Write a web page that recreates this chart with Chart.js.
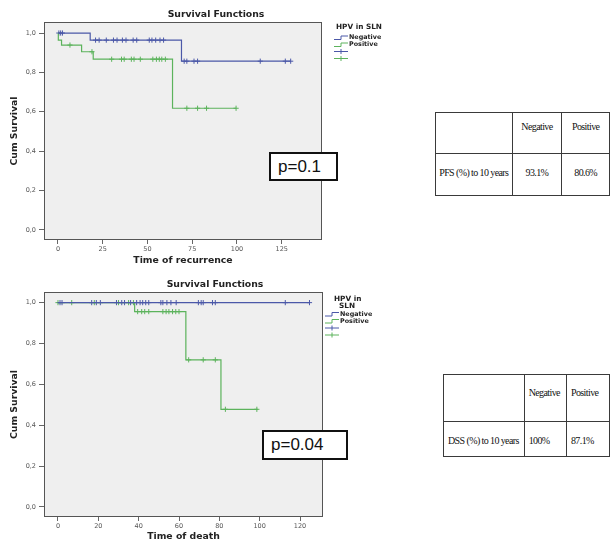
<!DOCTYPE html>
<html>
<head>
<meta charset="utf-8">
<script src="https://cdn.jsdelivr.net/npm/chart.js@4.4.1/dist/chart.umd.min.js"></script>
<style>
body{margin:0;background:#fff;width:610px;height:542px;position:relative;overflow:hidden}
canvas{position:absolute;left:0}
.pbox{position:absolute;box-sizing:border-box;border:2px solid #111;background:#fff;
  font-family:"Liberation Sans",Arial,sans-serif;font-size:17px;color:#111;padding-left:7px;display:flex;align-items:center}
table{position:absolute;border-collapse:collapse;table-layout:fixed;
  font-family:"Liberation Serif","Times New Roman",serif;font-size:10px;line-height:12px;color:#111;letter-spacing:-0.6px}
td{border:1.5px solid #3a3a3a;padding:0;white-space:nowrap;vertical-align:top}
#pfs td{text-align:center}
#pfs tr.h td{padding-top:8px}
#pfs tr.r td{padding-top:13px}
#dss td{text-align:left;padding-left:4px}
#dss tr.h td{padding-top:12px}
#dss tr.r td{padding-top:13px}
</style>
</head>
<body>
<canvas id="pfsChart" width="400" height="268" style="top:0px"></canvas>
<canvas id="dssChart" width="400" height="272" style="top:270px"></canvas>

<div class="pbox" style="left:269px;top:152px;width:69px;height:29px">p=0.1</div>
<div class="pbox" style="left:262px;top:430px;width:86px;height:30px">p=0.04</div>

<table id="pfs" style="left:435px;top:112px">
  <colgroup><col style="width:77px"><col style="width:51px"><col style="width:49px"></colgroup>
  <tr class="h" style="height:41px"><td></td><td>Negative</td><td>Positive</td></tr>
  <tr class="r" style="height:42px"><td>PFS (%) to 10 years</td><td>93.1%</td><td>80.6%</td></tr>
</table>

<table id="dss" style="left:443px;top:374px">
  <colgroup><col style="width:82px"><col style="width:44px"><col style="width:46px"></colgroup>
  <tr class="h" style="height:47px"><td></td><td>Negative</td><td>Positive</td></tr>
  <tr class="r" style="height:35px"><td>DSS (%) to 10 years</td><td>100%</td><td>87.1%</td></tr>
</table>

<script>
// colours
const blue = "#4b58a8";
const green = "#5cb35c";

// ---- PFS (time of recurrence) ----
const pfsNegTimes = [0, 18, 69, 130];
const pfsNegSurv = [1, 0.964, 0.857, 0.857];
const pfsPosTimes = [0, 0.2, 2, 13.2, 19.7, 64, 99.5];
const pfsPosSurv = [1, 0.964, 0.939, 0.905, 0.867, 0.618, 0.618];
const pfsNegCensored = [0.5, 1.5, 2.5, 21, 23, 27, 31, 33, 36, 38, 42, 44, 51, 52.5, 54.6, 57, 59, 70.5, 72, 76, 78, 113, 127, 130];
const pfsPosCensored = [6.7, 19, 30, 35.5, 37, 41, 42.5, 46, 53, 55, 56.6, 58, 60, 72, 78, 83, 99.5];
const pfsXTicks = [0, 25, 50, 75, 100, 125];

// ---- DSS (time of death) ----
const dssNegTimes = [0, 125];
const dssNegSurv = [1, 1];
const dssPosTimes = [0, 38, 63.4, 80.8, 99];
const dssPosSurv = [1, 0.956, 0.72, 0.478, 0.478];
const dssNegCensored = [1, 2, 16.7, 19, 21, 29, 31.6, 33, 36, 39, 40.7, 42, 43.5, 45, 51, 52, 54, 56, 58.6, 69.6, 71, 72, 76.6, 78, 112.7, 124.7];
const dssPosCensored = [0, 6.8, 18, 30, 35, 37.4, 39.5, 41.5, 43, 45, 52, 53.6, 55, 56.8, 58.4, 60, 64.8, 72, 78, 83, 98.6];
const dssXTicks = [0, 20, 40, 60, 80, 100, 120];

const yTicks = [0, 0.2, 0.4, 0.6, 0.8, 1.0];
const groupLabels = ["Negative", "Positive"];

// survival value of the step curve at time t
function survAt(times, surv, t) {
    let s = surv[0];
    for (let i = 0; i < times.length; i++) {
        if (times[i] <= t) s = surv[i];
    }
    return s;
}

function curve(times, surv) {
    return times.map((t, i) => ({ x: t, y: surv[i] }));
}

function marks(cens, times, surv) {
    return cens.map(t => ({ x: t, y: survAt(times, surv, t) }));
}

const kmDecor = {
    id: "kmDecor",
    beforeDraw(chart, args, opts) {
        const a = chart.chartArea;
        const ctx = chart.ctx;
        ctx.save();
        ctx.fillStyle = "#efefef";
        ctx.fillRect(a.left, a.top, a.width, a.height);
        ctx.strokeStyle = "#555";
        ctx.lineWidth = 1;
        ctx.strokeRect(a.left + 0.5, a.top + 0.5, a.width - 1, a.height - 1);
        ctx.restore();
    },
    afterDraw(chart, args, opts) {
        const ctx = chart.ctx;
        ctx.save();
        ctx.fillStyle = "#222";
        ctx.textAlign = "center";
        ctx.textBaseline = "middle";
        ctx.font = "bold 9.3px 'DejaVu Sans'";
        ctx.fillText("Survival Functions", opts.titleX, opts.titleY);

        // legend
        ctx.font = "bold 7.3px 'DejaVu Sans'";
        ctx.textAlign = "left";
        opts.legendTitle.forEach((t, i) => {
            ctx.fillText(t, opts.legendTitleX[i], opts.legendTitleY + i * 7);
        });
        const lx = opts.legendX;
        let ly = opts.legendY;
        const cols = [blue, green];
        ctx.font = "bold 6.4px 'DejaVu Sans'";
        ctx.lineWidth = 1;
        for (let i = 0; i < 2; i++) {
            ctx.strokeStyle = cols[i];
            ctx.beginPath();
            ctx.moveTo(lx, ly + 2);
            ctx.lineTo(lx + 7, ly + 2);
            ctx.lineTo(lx + 7, ly - 1.5);
            ctx.lineTo(lx + 14, ly - 1.5);
            ctx.stroke();
            ctx.fillStyle = "#222";
            ctx.fillText(groupLabels[i], lx + 15, ly);
            ly += 7;
        }
        for (let i = 0; i < 2; i++) {
            ctx.strokeStyle = cols[i];
            ctx.beginPath();
            ctx.moveTo(lx, ly);
            ctx.lineTo(lx + 14, ly);
            ctx.moveTo(lx + 7, ly - 2.5);
            ctx.lineTo(lx + 7, ly + 2.5);
            ctx.stroke();
            ly += 7;
        }
        ctx.restore();
    }
};

function makeKM(id, s) {
    return new Chart(document.getElementById(id), {
        type: "scatter",
        data: {
            datasets: [
                { data: curve(s.negT, s.negS), showLine: true, stepped: true, borderColor: blue, borderWidth: 1.2, pointRadius: 0 },
                { data: curve(s.posT, s.posS), showLine: true, stepped: true, borderColor: green, borderWidth: 1.2, pointRadius: 0 },
                { data: marks(s.negC, s.negT, s.negS), pointStyle: "cross", pointRadius: 2.6, borderWidth: 1, borderColor: blue },
                { data: marks(s.posC, s.posT, s.posS), pointStyle: "cross", pointRadius: 2.6, borderWidth: 1, borderColor: green }
            ]
        },
        options: {
            responsive: false,
            animation: false,
            events: [],
            layout: { padding: { top: s.padTop, right: s.padRight, left: 0, bottom: 0 } },
            plugins: {
                legend: { display: false },
                tooltip: { enabled: false },
                kmDecor: s.decor
            },
            scales: {
                x: {
                    type: "linear",
                    min: s.xMin,
                    max: s.xMax,
                    afterBuildTicks: sc => { sc.ticks = s.xTicks.map(v => ({ value: v })); },
                    afterFit: sc => { sc.height = s.xAxisH; },
                    border: { display: false },
                    grid: { drawOnChartArea: false, tickLength: 4, color: "#666" },
                    ticks: { font: { family: "DejaVu Sans", size: 6.5 }, color: "#555", padding: 1, maxRotation: 0, autoSkip: false },
                    title: { display: true, text: s.xTitle, color: "#222", font: { family: "DejaVu Sans", size: 9.3, weight: "bold" }, padding: { top: 0, bottom: s.xTitlePad } }
                },
                y: {
                    min: s.yMin,
                    max: s.yMax,
                    afterBuildTicks: sc => { sc.ticks = yTicks.map(v => ({ value: v })); },
                    afterFit: sc => { sc.width = 44; },
                    border: { display: false },
                    grid: { drawOnChartArea: false, tickLength: 5, color: "#666" },
                    ticks: { font: { family: "DejaVu Sans", size: 6.5 }, color: "#555", padding: 3, callback: v => v.toFixed(1).replace(".", ",") },
                    title: { display: true, text: "Cum Survival", color: "#222", font: { family: "DejaVu Sans", size: 9.3, weight: "bold" }, padding: { top: 9, bottom: 0 } }
                }
            }
        },
        plugins: [kmDecor]
    });
}

makeKM("pfsChart", {
    negT: pfsNegTimes, negS: pfsNegSurv, posT: pfsPosTimes, posS: pfsPosSurv,
    negC: pfsNegCensored, posC: pfsPosCensored, xTicks: pfsXTicks,
    xMin: -7.8, xMax: 147.5, yMin: -0.051, yMax: 1.056,
    padTop: 22, padRight: 78, xAxisH: 28, xTitlePad: 2,
    xTitle: "Time of recurrence",
    decor: { titleX: 216, titleY: 15, legendTitle: ["HPV in SLN"], legendTitleX: [336], legendTitleY: 27,
             legendX: 334, legendY: 37.5 }
});

makeKM("dssChart", {
    negT: dssNegTimes, negS: dssNegSurv, posT: dssPosTimes, posS: dssPosSurv,
    negC: dssNegCensored, posC: dssPosCensored, xTicks: dssXTicks,
    xMin: -6.94, xMax: 131.4, yMin: -0.049, yMax: 1.052,
    padTop: 22, padRight: 77, xAxisH: 25, xTitlePad: 0,
    xTitle: "Time of death",
    decor: { titleX: 215, titleY: 15, legendTitle: ["HPV in", "SLN"], legendTitleX: [334, 339], legendTitleY: 29,
             legendX: 325, legendY: 44 }
});
</script>
</body>
</html>
